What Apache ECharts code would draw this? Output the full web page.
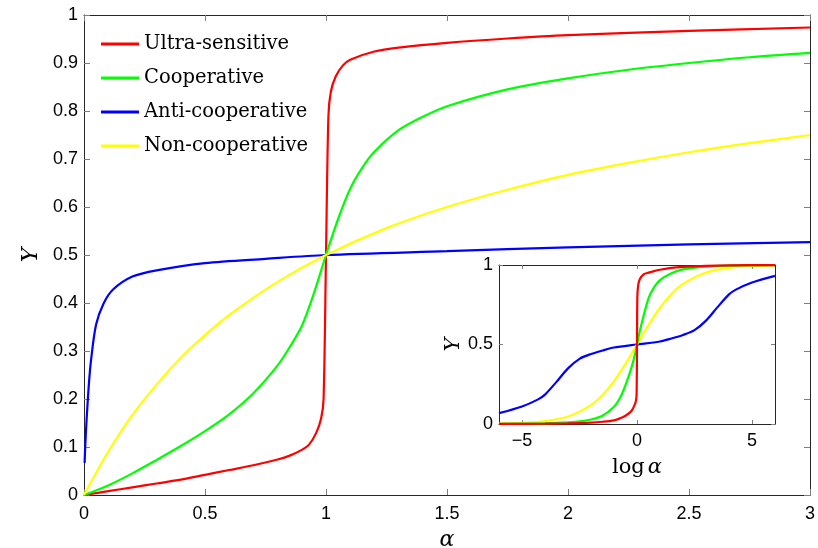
<!DOCTYPE html>
<html>
<head>
<meta charset="utf-8">
<script src="https://cdn.jsdelivr.net/npm/echarts@6/dist/echarts.min.js"></script>
<style>html,body{margin:0;padding:0;background:#fff;}#c{width:818px;height:548px;}</style>
</head>
<body>
<div id="c"></div>
<script>
// ---- Main chart data (alpha vs Y) ----
const seriesNames = ['Ultra-sensitive', 'Cooperative', 'Anti-cooperative', 'Non-cooperative'];
const ultraAlpha = [0, 0.1, 0.2, 0.3, 0.4, 0.5, 0.6, 0.7, 0.8, 0.85, 0.9, 0.93, 0.96, 0.98, 0.99, 1.0, 1.01, 1.02, 1.04, 1.07, 1.1, 1.2, 1.3, 1.5, 1.75, 2, 2.5, 3];
const ultraY     = [0, 0.008, 0.016, 0.024, 0.032, 0.042, 0.052, 0.062, 0.074, 0.082, 0.094, 0.105, 0.13, 0.16, 0.2, 0.5, 0.79, 0.84, 0.872, 0.895, 0.907, 0.924, 0.932, 0.942, 0.951, 0.958, 0.967, 0.974];
const coopAlpha  = [0, 0.1, 0.2, 0.3, 0.4, 0.5, 0.6, 0.7, 0.8, 0.85, 0.9, 0.95, 1, 1.05, 1.1, 1.15, 1.2, 1.3, 1.4, 1.5, 1.75, 2, 2.25, 2.5, 2.75, 3];
const coopY      = [0, 0.02, 0.045, 0.073, 0.102, 0.133, 0.168, 0.212, 0.27, 0.308, 0.352, 0.42, 0.5, 0.575, 0.638, 0.682, 0.715, 0.76, 0.788, 0.81, 0.845, 0.868, 0.886, 0.9, 0.912, 0.921];
const antiAlpha  = [0.0025, 0.005, 0.01, 0.02, 0.03, 0.05, 0.08, 0.12, 0.2, 0.3, 0.5, 0.75, 1, 1.5, 2, 2.5, 3];
const antiY      = [0.067, 0.1, 0.15, 0.23, 0.285, 0.355, 0.398, 0.428, 0.455, 0.468, 0.483, 0.492, 0.5, 0.508, 0.516, 0.522, 0.527];
const nonAlpha   = [0, 0.1, 0.2, 0.3, 0.4, 0.5, 0.6, 0.8, 1.0, 1.25, 1.5, 1.75, 2.0, 2.25, 2.5, 2.75, 3.0];
const nonY       = [0, 0.09, 0.167, 0.23, 0.286, 0.333, 0.375, 0.444, 0.5, 0.556, 0.6, 0.636, 0.667, 0.692, 0.714, 0.733, 0.75];

// ---- Inset data (log alpha vs Y) ----
const ultraLog = [-6, -4, -3, -2, -1.5, -1, -0.7, -0.5, -0.25, -0.11, -0.04, -0.015, 0, 0.015, 0.05, 0.12, 0.3, 0.5, 0.7, 1, 1.5, 2, 3, 4, 6];
const ultraLogY = [0.0003, 0.002, 0.004, 0.009, 0.014, 0.023, 0.038, 0.052, 0.08, 0.117, 0.15, 0.2, 0.5, 0.8, 0.87, 0.91, 0.942, 0.952, 0.96, 0.97, 0.982, 0.988, 0.995, 0.998, 0.9997];
const coopLog = [-6, -4, -3, -2.4, -2, -1.5, -1, -0.7, -0.5, -0.25, -0.1, 0, 0.1, 0.25, 0.5, 0.7, 1, 1.5, 2, 3, 4, 6];
const coopLogY = [0.001, 0.004, 0.01, 0.018, 0.028, 0.052, 0.108, 0.175, 0.245, 0.35, 0.43, 0.5, 0.57, 0.66, 0.79, 0.85, 0.905, 0.948, 0.972, 0.99, 0.996, 0.999];
const antiLog = [-6, -5, -4.3, -4, -3.5, -3, -2.5, -2, -1.5, -1, 0, 1, 1.5, 2, 2.5, 3, 3.5, 4, 4.3, 5, 6];
const antiLogY = [0.068, 0.11, 0.155, 0.185, 0.265, 0.35, 0.41, 0.44, 0.462, 0.481, 0.5, 0.519, 0.538, 0.56, 0.59, 0.65, 0.735, 0.815, 0.845, 0.89, 0.932];
const nonLog = [-6, -5, -4, -3, -2, -1.5, -1, -0.5, 0, 0.5, 1, 1.5, 2, 3, 4, 5, 6];
const nonLogY = [0.0025, 0.0067, 0.018, 0.047, 0.119, 0.182, 0.269, 0.378, 0.5, 0.622, 0.731, 0.818, 0.881, 0.953, 0.982, 0.993, 0.9975];

const insetXTicks = [-5, 0, 5];

const colors = ['#ff0000', '#00ff00', '#0000ff', '#ffff00'];
const zip = (a, b) => a.map((v, i) => [v, b[i]]);

const axisLineStyle = { color: '#262626', width: 1 };
const tickStyle = { color: '#7f7f7f', width: 1 };
const labelFont = { fontFamily: 'Liberation Sans', fontSize: 18, color: '#000' };
const fmt = v => String(+(+v).toFixed(2)).replace('-', '\u2212');

function lineSeries(name, data, color, xi, yi) {
  return {
    name, type: 'line', data, xAxisIndex: xi, yAxisIndex: yi,
    showSymbol: false, symbol: 'none', smooth: 0.3,
    lineStyle: { color, width: 2.2 }, itemStyle: { color },
    emphasis: { disabled: true }, animation: false, z: 3
  };
}

const chart = echarts.init(document.getElementById('c'), null, { renderer: 'canvas' });
chart.setOption({
  backgroundColor: '#fff',
  animation: false,
  grid: [
    { left: 84, right: 8, top: 15, bottom: 53, show: false, containLabel: false, outerBoundsMode: 'none' },
    { left: 499, right: 43, top: 265, bottom: 124, show: false, containLabel: false, outerBoundsMode: 'none' }
  ],
  legend: {
    data: seriesNames,
    orient: 'vertical', left: 101, top: 34, padding: 0,
    itemWidth: 38, itemHeight: 3, itemGap: 14, icon: 'rect',
    textStyle: { fontFamily: 'DejaVu Serif', fontSize: 19.5, color: '#000', lineHeight: 20 },
    selectedMode: false
  },
  xAxis: [
    { type: 'value', gridIndex: 0, min: 0, max: 3, interval: 0.5, position: 'bottom',
      name: '\u03b1', nameLocation: 'middle', nameGap: 34,
      nameTextStyle: { fontFamily: 'DejaVu Serif', fontStyle: 'italic', fontSize: 22, color: '#000' },
      axisLine: { show: true, onZero: false, lineStyle: axisLineStyle },
      axisTick: { inside: true, length: 6, lineStyle: tickStyle },
      axisLabel: Object.assign({ margin: 10, formatter: fmt }, labelFont),
      splitLine: { show: false } },
    { type: 'value', gridIndex: 0, min: 0, max: 3, interval: 0.5, position: 'top',
      axisLine: { show: true, onZero: false, lineStyle: axisLineStyle },
      axisTick: { inside: true, length: 6, lineStyle: tickStyle },
      axisLabel: { show: false }, splitLine: { show: false } },
    { type: 'value', gridIndex: 1, min: -6, max: 6, position: 'bottom',
      name: '{a|log}{b|\u03b1}', nameLocation: 'middle', nameGap: 33,
      nameTextStyle: { rich: {
        a: { fontFamily: 'DejaVu Serif', fontSize: 21, color: '#000' },
        b: { fontFamily: 'DejaVu Serif', fontStyle: 'italic', fontSize: 21, color: '#000', padding: [0, 0, 0, 3] } } },
      axisLine: { show: true, onZero: false, lineStyle: axisLineStyle },
      axisTick: { inside: true, length: 4, lineStyle: tickStyle, customValues: insetXTicks },
      axisLabel: Object.assign({ margin: 8, formatter: fmt, customValues: insetXTicks }, labelFont),
      splitLine: { show: false } },
    { type: 'value', gridIndex: 1, min: -6, max: 6, position: 'top',
      axisLine: { show: true, onZero: false, lineStyle: axisLineStyle },
      axisTick: { inside: true, length: 4, lineStyle: tickStyle, customValues: insetXTicks },
      axisLabel: { show: false, customValues: insetXTicks }, splitLine: { show: false } }
  ],
  yAxis: [
    { type: 'value', gridIndex: 0, min: 0, max: 1, interval: 0.1, position: 'left',
      name: 'Y', nameLocation: 'middle', nameGap: 42, nameRotate: 90,
      nameTextStyle: { fontFamily: 'DejaVu Serif', fontStyle: 'italic', fontSize: 22, color: '#000' },
      axisLine: { show: true, onZero: false, lineStyle: axisLineStyle },
      axisTick: { inside: true, length: 6, lineStyle: tickStyle },
      axisLabel: Object.assign({ margin: 6, formatter: fmt }, labelFont),
      splitLine: { show: false } },
    { type: 'value', gridIndex: 0, min: 0, max: 1, interval: 0.1, position: 'right',
      axisLine: { show: true, onZero: false, lineStyle: axisLineStyle },
      axisTick: { inside: true, length: 6, lineStyle: tickStyle },
      axisLabel: { show: false }, splitLine: { show: false } },
    { type: 'value', gridIndex: 1, min: 0, max: 1, interval: 0.5, position: 'left',
      name: 'Y', nameLocation: 'middle', nameGap: 35, nameRotate: 90,
      nameTextStyle: { fontFamily: 'DejaVu Serif', fontStyle: 'italic', fontSize: 21, color: '#000' },
      axisLine: { show: true, onZero: false, lineStyle: axisLineStyle },
      axisTick: { inside: true, length: 4, lineStyle: tickStyle },
      axisLabel: Object.assign({ margin: 6, formatter: fmt }, labelFont),
      splitLine: { show: false } },
    { type: 'value', gridIndex: 1, min: 0, max: 1, interval: 0.5, position: 'right',
      axisLine: { show: true, onZero: false, lineStyle: axisLineStyle },
      axisTick: { inside: true, length: 4, lineStyle: tickStyle },
      axisLabel: { show: false }, splitLine: { show: false } }
  ],
  series: [
    lineSeries(seriesNames[0], zip(ultraAlpha, ultraY), colors[0], 0, 0),
    lineSeries(seriesNames[1], zip(coopAlpha, coopY), colors[1], 0, 0),
    lineSeries(seriesNames[2], zip(antiAlpha, antiY), colors[2], 0, 0),
    lineSeries(seriesNames[3], zip(nonAlpha, nonY), colors[3], 0, 0),
    lineSeries(seriesNames[2], zip(antiLog, antiLogY), colors[2], 2, 2),
    lineSeries(seriesNames[3], zip(nonLog, nonLogY), colors[3], 2, 2),
    lineSeries(seriesNames[1], zip(coopLog, coopLogY), colors[1], 2, 2),
    lineSeries(seriesNames[0], zip(ultraLog, ultraLogY), colors[0], 2, 2)
  ]
});
</script>
</body>
</html>
